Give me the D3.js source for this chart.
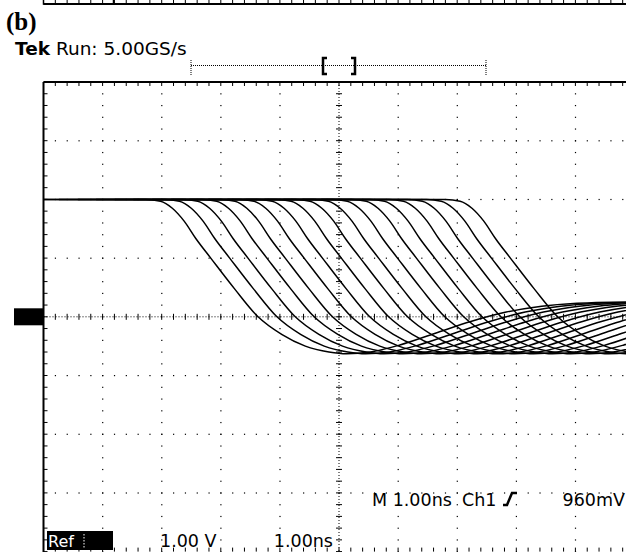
<!DOCTYPE html>
<html>
<head>
<meta charset="utf-8">
<script src="https://cdn.jsdelivr.net/npm/d3@7"></script>
<style>
  html, body { margin: 0; padding: 0; background: #fff; }
  svg { display: block; }
  text { font-family: "DejaVu Sans", sans-serif; fill: #000; }
</style>
</head>
<body>
<div class="scope"></div>
<script>
// one edge, time relative to its 0 V crossing (ns), volts
const shapeTime = [-4.0, -1.9, -1.65, -1.45, -1.25, -1.05, -0.8, -0.4, 0.0, 0.4, 0.8, 1.2, 1.5, 1.9, 2.4, 3.0, 3.6, 4.2, 4.8, 5.4, 6.0, 9.0];
const shapeVolt = [2.0, 2.0, 1.97, 1.85, 1.63, 1.33, 1.0, 0.48, 0.0, -0.3, -0.5, -0.6, -0.63, -0.6, -0.48, -0.28, -0.08, 0.08, 0.18, 0.23, 0.25, 0.25];
// 0 V crossing time of every trace (ns from screen centre)
const crossTimes = [-1.37, -1.05, -0.74, -0.42, -0.11, 0.21, 0.52, 0.84, 1.16, 1.47, 1.79, 2.11, 2.42, 2.74, 3.06, 3.38, 3.7];

const panelLabel = '(b)';
const headerLabel = ['Tek', 'Run: 5.00GS/s'];
const readoutLabels = ['M 1.00ns', 'Ch1', '960mV'];
const scaleLabels = ['Ref', '1.00 V', '1.00ns'];

const width = 626, height = 552;
const plotLeft = 43.5, plotTop = 82;
const divX = 59.1, divY = 58.7;

const x = d3.scaleLinear().domain([-5, 5]).range([plotLeft, plotLeft + 10 * divX]);
const y = d3.scaleLinear().domain([-4, 4]).range([plotTop + 8 * divY, plotTop]);

const svg = d3.select('.scope').append('svg')
  .attr('width', width)
  .attr('height', height);

// bits of panel (a) at the very top
svg.append('line')
  .attr('x1', plotLeft).attr('x2', width)
  .attr('y1', 4).attr('y2', 4)
  .attr('stroke', '#000').attr('stroke-width', 2);
svg.append('rect')
  .attr('x', plotLeft).attr('y', -6).attr('width', 70).attr('height', 10)
  .attr('fill', 'none').attr('stroke', '#000').attr('stroke-width', 1.5);
svg.append('g')
  .selectAll('line')
  .data(d3.range(-5, 5.01, 0.2))
  .enter().append('line')
  .attr('x1', d => x(d)).attr('x2', d => x(d))
  .attr('y1', 0).attr('y2', 3)
  .attr('stroke', '#000');

svg.append('text')
  .attr('x', 6).attr('y', 30)
  .style('font-family', '"Liberation Serif", serif')
  .style('font-weight', 'bold')
  .style('font-size', '25px')
  .text(panelLabel);

const header = svg.append('text')
  .attr('x', 15).attr('y', 55)
  .style('font-size', '18.5px');
header.append('tspan').style('font-weight', 'bold').text(headerLabel[0]);
header.append('tspan').text(' ' + headerLabel[1]);

// record view bracket
const bar = svg.append('g').attr('stroke', '#000');
bar.append('line')
  .attr('x1', 191).attr('x2', 486).attr('y1', 65.5).attr('y2', 65.5)
  .attr('stroke-dasharray', '1,1');
[191, 486].forEach(bx => {
  bar.append('line')
    .attr('x1', bx).attr('x2', bx).attr('y1', 60).attr('y2', 75)
    .attr('stroke-dasharray', '1,1');
});
bar.append('path')
  .attr('d', 'M327,58H323V74H327 M351,58H355V74H351')
  .attr('fill', 'none').attr('stroke-width', 2.5);

// graticule
const grid = svg.append('g');
const minorT = d3.range(-5, 5.01, 0.2).map(d => +d.toFixed(1));
const minorV = d3.range(-4, 4.01, 0.2).map(d => +d.toFixed(1));

d3.range(-4, 5).filter(d => d !== 0).forEach(t => {
  grid.selectAll(null).data(minorV).enter().append('rect')
    .attr('x', x(t) - 0.5).attr('y', d => y(d) - 0.5)
    .attr('width', 1.2).attr('height', 1.2).attr('fill', '#000');
});
d3.range(-3, 4).filter(d => d !== 0).forEach(v => {
  grid.selectAll(null).data(minorT).enter().append('rect')
    .attr('x', d => x(d) - 0.5).attr('y', y(v) - 0.5)
    .attr('width', 1.2).attr('height', 1.2).attr('fill', '#000');
});

// centre cross
grid.append('line')
  .attr('x1', x(-5)).attr('x2', x(5)).attr('y1', y(0)).attr('y2', y(0))
  .attr('stroke', '#000').attr('stroke-dasharray', '1,2');
grid.append('line')
  .attr('x1', x(0)).attr('x2', x(0)).attr('y1', y(4)).attr('y2', y(-4))
  .attr('stroke', '#000').attr('stroke-dasharray', '1,2');
grid.selectAll(null).data(minorT).enter().append('line')
  .attr('x1', d => x(d)).attr('x2', d => x(d))
  .attr('y1', y(0) - 3).attr('y2', y(0) + 3)
  .attr('stroke', '#000');
grid.selectAll(null).data(minorV).enter().append('line')
  .attr('x1', x(0) - 3).attr('x2', x(0) + 3)
  .attr('y1', d => y(d)).attr('y2', d => y(d))
  .attr('stroke', '#000');

// frame ticks
grid.selectAll(null).data(minorT).enter().append('line')
  .attr('x1', d => x(d)).attr('x2', d => x(d))
  .attr('y1', y(4)).attr('y2', y(4) + 4)
  .attr('stroke', '#000');
grid.selectAll(null).data(minorT).enter().append('line')
  .attr('x1', d => x(d)).attr('x2', d => x(d))
  .attr('y1', y(-4) - 4).attr('y2', y(-4))
  .attr('stroke', '#000');
grid.selectAll(null).data(minorV).enter().append('line')
  .attr('x1', x(-5)).attr('x2', x(-5) + 4)
  .attr('y1', d => y(d)).attr('y2', d => y(d))
  .attr('stroke', '#000');

grid.append('line')
  .attr('x1', x(-5)).attr('x2', width).attr('y1', y(4)).attr('y2', y(4))
  .attr('stroke', '#000').attr('stroke-width', 2);
grid.append('line')
  .attr('x1', x(-5)).attr('x2', x(-5)).attr('y1', y(4)).attr('y2', height)
  .attr('stroke', '#000').attr('stroke-width', 2);

// channel ground marker
svg.append('rect')
  .attr('x', 14).attr('y', y(0) - 8.5).attr('width', x(-5) - 14).attr('height', 17)
  .attr('fill', '#000');

// traces
svg.append('clipPath').attr('id', 'screen')
  .append('rect')
  .attr('x', x(-5)).attr('y', y(4)).attr('width', width - x(-5)).attr('height', height - y(4));

const shape = shapeTime.map((t, i) => ({ t, v: shapeVolt[i] }));
const line = d3.line()
  .x(d => x(d.t))
  .y(d => y(d.v))
  .curve(d3.curveMonotoneX);

svg.append('g')
  .attr('clip-path', 'url(#screen)')
  .selectAll('path')
  .data(crossTimes)
  .enter().append('path')
  .attr('d', tc => line(shape.map(p => ({ t: p.t + tc, v: p.v }))))
  .attr('fill', 'none')
  .attr('stroke', '#000')
  .attr('stroke-width', 1.5);

// readouts
svg.append('text')
  .attr('x', 372).attr('y', 506)
  .style('font-size', '17.5px')
  .text(readoutLabels[0]);
svg.append('text')
  .attr('x', 462).attr('y', 506)
  .style('font-size', '17.5px')
  .text(readoutLabels[1]);
svg.append('path')
  .attr('d', 'M503,505H507L512,493H517')
  .attr('fill', 'none').attr('stroke', '#000').attr('stroke-width', 2.5);
svg.append('text')
  .attr('x', 625).attr('y', 506)
  .attr('text-anchor', 'end')
  .style('font-size', '17.5px')
  .text(readoutLabels[2]);

svg.append('rect')
  .attr('x', 47).attr('y', 531).attr('width', 66).attr('height', 19)
  .attr('fill', '#000');
svg.append('text')
  .attr('x', 48).attr('y', 547)
  .style('font-size', '16px')
  .style('fill', '#fff')
  .text(scaleLabels[0]);
svg.append('line')
  .attr('x1', 84).attr('x2', 84).attr('y1', 534).attr('y2', 548)
  .attr('stroke', '#fff').attr('stroke-dasharray', '1.5,1.5');
svg.append('text')
  .attr('x', 160).attr('y', 547)
  .style('font-size', '17.5px')
  .text(scaleLabels[1]);
svg.append('text')
  .attr('x', 333).attr('y', 547)
  .attr('text-anchor', 'end')
  .style('font-size', '17.5px')
  .text(scaleLabels[2]);
</script>
</body>
</html>
